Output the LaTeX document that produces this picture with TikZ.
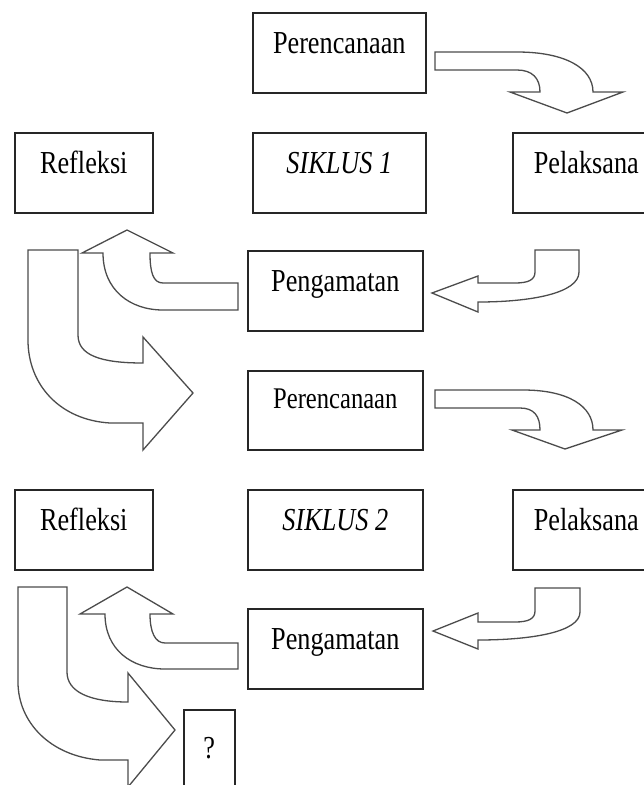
\documentclass[tikz,border=0pt]{standalone}
\usepackage{fontspec}
\newfontfamily\boxfont[FakeStretch=0.82]{Liberation Serif}
\begin{document}
\begin{tikzpicture}[x=1pt,y=-1pt,
  box/.style={draw=black!85, line width=1.6pt, inner sep=0pt, text height=41pt, text depth=39pt,
    minimum width=173pt, font=\boxfont\fontsize{32}{36}\selectfont},
  cyc/.style={font=\boxfont\itshape\fontsize{32}{36}\selectfont},
  blk/.style={draw=black!70, line width=1.3pt, fill=white, line join=miter}]
\useasboundingbox (0,0) rectangle (644,785);
\fill[white] (0,0) rectangle (644,785);
\clip (0,0) rectangle (644,785);

% block arrows
\draw[blk] (435,52) -- (517,52) .. controls (565,52) and (593,68) .. (593,92) -- (623,92) -- (567,113) -- (510,92) -- (540,92) .. controls (540,78) and (532,70) .. (517,70) -- (435,70) -- cycle;
\draw[blk] (435,390) -- (523,390) .. controls (568,390) and (593,406) .. (593,430) -- (622,430) -- (565,449) -- (512,430) -- (540,430) .. controls (540,416) and (534,408) .. (520,408) -- (435,408) -- cycle;
\draw[blk] (535,250) -- (579,250) -- (579,272) .. controls (579,293) and (532,302) .. (478,302) -- (478,312) -- (432,293) -- (478,276) -- (478,283) -- (515,283) .. controls (528,283) and (535,280) .. (535,272) -- cycle;
\draw[blk] (535,588) -- (580,588) -- (580,612) .. controls (580,632) and (532,640) .. (478,640) -- (478,649) -- (433,631) -- (478,613) -- (478,622) -- (515,622) .. controls (528,622) and (535,619) .. (535,611) -- cycle;
\draw[blk] (238,283) -- (163,283) .. controls (153,283) and (150,272) .. (150,253) -- (173,253) -- (127,230) -- (82,253) -- (103,253) .. controls (103,290) and (130,310) .. (163,310) -- (238,310) -- cycle;
\draw[blk] (238,643) -- (165,643) .. controls (155,643) and (150,632) .. (150,614) -- (173,614) -- (127,587) -- (80,614) -- (105,614) .. controls (105,650) and (132,669) .. (165,669) -- (238,669) -- cycle;
\draw[blk] (28,250) -- (78,250) -- (78,335) .. controls (78,355) and (100,363) .. (143,363) -- (143,337) -- (193,393) -- (143,450) -- (143,423) -- (110,423) .. controls (60,420) and (28,385) .. (28,340) -- cycle;
\draw[blk] (18,587) -- (67,587) -- (67,672) .. controls (67,692) and (90,702) .. (128,702) -- (128,673) -- (175,730) -- (128,787) -- (128,760) -- (100,760) .. controls (50,756) and (18,722) .. (18,682) -- cycle;

% boxes
\node[box, anchor=north west] (plan1) at (252,12) {Perencanaan};
\node[box, cyc, anchor=north west] (cyc1) at (252,132) {SIKLUS 1};
\node[box, anchor=north west, minimum width=147pt] (act1) at (512,132) {Pelaksana};
\node[box, anchor=north west, minimum width=138pt] (ref1) at (14,132) {Refleksi};
\node[box, anchor=north west, minimum width=175pt] (obs1) at (247,250) {Pengamatan};
\node[box, anchor=north west, minimum width=175pt, text height=38pt, text depth=41pt,
  font=\boxfont\fontsize{30}{34}\selectfont] (plan2) at (247,370) {Perencanaan};
\node[box, cyc, anchor=north west, minimum width=175pt] (cyc2) at (247,489) {SIKLUS 2};
\node[box, anchor=north west, minimum width=147pt] (act2) at (512,489) {Pelaksana};
\node[box, anchor=north west, minimum width=138pt] (ref2) at (14,489) {Refleksi};
\node[box, anchor=north west, minimum width=175pt] (obs2) at (247,608) {Pengamatan};
\node[box, anchor=north west, minimum width=51pt, text height=49pt, text depth=50pt] (next) at (183,709) {?};
\end{tikzpicture}
\end{document}
